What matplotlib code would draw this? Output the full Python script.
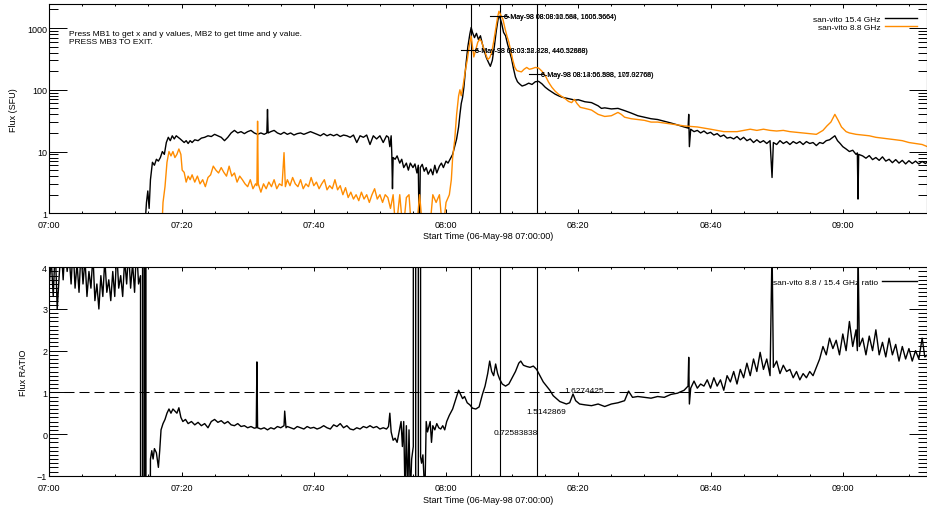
import matplotlib
matplotlib.use("Agg")
import matplotlib.pyplot as plt
from matplotlib.lines import Line2D
from matplotlib.ticker import MultipleLocator, NullFormatter, LogLocator, FixedLocator

plt.rcParams['font.family'] = ['Liberation Sans', 'DejaVu Sans']

# ---------------- data (time in minutes after 07:00 UT, 06-May-98) ----------------
t_154 = [14.4, 14.7, 14.9, 15.1, 15.3, 15.6, 15.9, 16.2, 16.5, 16.8,
         17.1, 17.4, 17.7, 18.0, 18.3, 18.6, 18.9, 19.2, 19.5, 19.8,
         20.1, 20.4, 20.7, 21.0, 21.3, 21.6, 22.0, 22.5, 23.0, 23.5,
         24.0, 24.5, 25.0, 25.5, 26.0, 26.5, 27.0, 27.5, 28.0, 28.5,
         29.0, 29.5, 30.0, 30.5, 31.0, 31.5, 32.0, 32.5, 32.9, 33.0,
         33.1, 33.5, 34.0, 34.5, 35.0, 35.5, 36.0, 36.5, 37.0, 37.5,
         38.0, 38.5, 39.0, 39.5, 40.0, 40.5, 41.0, 41.5, 42.0, 42.5,
         43.0, 43.5, 44.0, 44.5, 45.0, 45.5, 46.0, 46.5, 47.0, 47.5,
         48.0, 48.5, 49.0, 49.5, 50.0, 50.5, 51.0, 51.3, 51.5, 51.7,
         51.8, 51.9, 52.0, 52.3, 52.6, 53.0, 53.3, 53.6, 54.0, 54.3,
         54.6, 55.0, 55.3, 55.6, 55.8, 55.9, 56.0, 56.1, 56.4, 56.7,
         57.0, 57.3, 57.7, 58.0, 58.3, 58.6, 59.0, 59.3, 59.6, 60.0,
         60.3, 60.6, 61.0, 61.3, 61.6, 61.9, 62.1, 62.3, 62.5, 62.7,
         63.0, 63.3, 63.6, 63.8, 64.0, 64.3, 64.6, 64.9, 65.2, 65.5,
         65.8, 66.1, 66.4, 66.7, 67.0, 67.3, 67.6, 67.9, 68.1, 68.4,
         68.7, 69.0, 69.3, 69.6, 69.9, 70.2, 70.5, 70.8, 71.1, 71.5,
         72.0, 72.5, 73.0, 73.5, 74.0, 74.5, 75.0, 75.5, 76.0, 76.5,
         77.0, 77.5, 78.0, 78.5, 79.0, 79.5, 80.0, 81.0, 82.0, 83.0,
         83.5, 84.0, 85.0, 86.0, 87.0, 88.0, 89.0, 90.0, 91.0, 92.0,
         93.0, 94.0, 95.0, 96.0, 96.6, 96.7, 96.8, 97.0, 97.5, 98.0,
         98.5, 99.0, 99.5, 100.0, 100.5, 101.0, 101.5, 102.0, 102.5, 103.0,
         103.5, 104.0, 104.5, 105.0, 105.5, 106.0, 106.5, 107.0, 107.5, 108.0,
         108.5, 109.0, 109.3, 109.5, 110.0, 110.5, 111.0, 111.5, 112.0, 112.5,
         113.0, 113.5, 114.0, 114.5, 115.0, 115.5, 116.0, 116.5, 117.0, 117.5,
         118.0, 118.5, 118.8, 119.2, 119.6, 120.0, 120.5, 121.0, 121.5, 122.0,
         122.2, 122.3, 122.4, 123.0, 123.5, 124.0, 124.5, 125.0, 125.5, 126.0,
         126.5, 127.0, 127.5, 128.0, 128.5, 129.0, 129.5, 130.0, 130.5, 131.0,
         131.5, 132.0, 132.5, 132.8]
flux_154 = [0.5, 1.5, 2.3, 1.2, 3.5, 6.7, 6.0, 7.5, 7.0, 8.0,
            10, 9, 14, 17, 15, 18, 16, 18, 17, 16,
            15, 14, 15, 13.5, 15, 14, 15.5, 15, 16.5, 17,
            18, 17.5, 19, 18, 17, 15, 17, 20, 22, 20,
            21, 19.5, 21, 22, 20, 19, 20, 19, 20, 48,
            20, 21, 22, 20, 19, 20.5, 19, 20, 18.5, 19.5,
            20, 19, 20, 21, 20, 19, 18, 19.5, 18, 19,
            18, 19, 17.5, 18.5, 18, 17, 18.5, 14, 18, 17,
            18.5, 13, 18, 16, 18, 14, 18, 17, 12, 18,
            9, 2.5, 8, 7.5, 8.5, 6.5, 7.5, 5.5, 6.5, 5,
            6.5, 5.5, 6.3, 4.5, 6, 1, 0.5, 5.5, 6.2, 4.8,
            5.5, 4.3, 5.2, 4.2, 6, 4.5, 5.8, 6.5, 5.5, 7,
            6.5, 7.5, 9, 12, 16, 25, 40, 60, 75, 110,
            250, 500, 800, 1020, 850, 700, 820, 650, 750, 550,
            420, 330, 280, 240, 300, 500, 900, 1450, 1550, 1200,
            850, 750, 550, 420, 320, 220, 160, 135, 125, 115,
            120, 128, 122, 135, 137, 125, 110, 100, 92, 85,
            80, 76, 74, 72, 70, 68, 69, 64, 62, 55,
            50, 51, 49, 50, 46, 42, 38, 36, 34, 33,
            31, 29, 27, 25, 24, 40, 12, 23, 21, 22,
            20, 21.5, 19.5, 20.5, 18.5, 19.5, 17.5, 18.5, 16.5, 17,
            16, 17.5, 15.5, 17, 15, 16, 14, 15.5, 14, 15,
            13.5, 15, 3.8, 14, 13, 15, 13.5, 14.5, 13, 14.5,
            13.5, 14.5, 13, 14.5, 13.5, 14, 12.5, 14, 13.5, 15,
            15.5, 17, 18, 15, 13.5, 12, 11, 10, 10.5, 9,
            9.5, 1.7, 9, 8.5, 7.8, 8.6, 7.4, 8, 7.2, 8.2,
            7, 7.5, 6.6, 7.4, 6.5, 7.2, 6.3, 7.1, 6.4, 7,
            6.3, 6.9, 6.4, 6.8]

t_88 = [17.0, 17.2, 17.5, 17.8, 18.1, 18.4, 18.7, 19.0, 19.3, 19.6,
        19.9, 20.1, 20.4, 20.7, 21.0, 21.3, 21.6, 22.0, 22.4, 22.8,
        23.2, 23.6, 24.0, 24.4, 24.8, 25.2, 25.6, 26.0, 26.4, 26.8,
        27.2, 27.6, 28.0, 28.4, 28.8, 29.2, 29.6, 30.0, 30.4, 30.8,
        31.2, 31.4, 31.5, 31.6, 32.0, 32.4, 32.8, 33.2, 33.6, 34.0,
        34.4, 34.8, 35.2, 35.5, 35.7, 36.0, 36.4, 36.8, 37.2, 37.6,
        38.0, 38.4, 38.8, 39.2, 39.6, 40.0, 40.4, 40.8, 41.2, 41.6,
        42.0, 42.4, 42.8, 43.2, 43.6, 44.0, 44.4, 44.8, 45.2, 45.6,
        46.0, 46.4, 46.8, 47.2, 47.6, 48.0, 48.4, 48.8, 49.2, 49.6,
        50.0, 50.4, 50.8, 51.2, 51.6, 52.0, 52.4, 53.0, 53.5, 54.0,
        54.4, 54.8, 55.5, 56.0, 56.5, 57.5, 58.0, 58.5, 59.0, 59.5,
        60.0, 60.5, 60.8, 61.0, 61.3, 61.6, 61.9, 62.1, 62.3, 62.6,
        62.9, 63.2, 63.5, 63.8, 64.0, 64.2, 64.5, 64.8, 65.1, 65.4,
        65.7, 66.0, 66.3, 66.6, 66.9, 67.2, 67.5, 67.8, 68.0, 68.3,
        68.6, 68.9, 69.2, 69.5, 69.8, 70.1, 70.4, 70.7, 71.0, 71.4,
        71.8, 72.2, 72.6, 73.0, 73.5, 74.0, 74.5, 75.0, 75.5, 76.0,
        76.5, 77.0, 77.5, 78.0, 78.5, 79.0, 79.4, 79.8, 80.3, 81.0,
        82.0, 83.0, 84.0, 85.0, 86.0, 86.5, 87.0, 88.0, 89.0, 90.0,
        91.0, 92.0, 93.0, 94.0, 95.0, 96.0, 97.0, 98.0, 99.0, 100.0,
        101.0, 102.0, 103.0, 104.0, 105.0, 106.0, 107.0, 108.0, 109.0, 110.0,
        111.0, 112.0, 113.0, 114.0, 115.0, 116.0, 117.0, 117.6, 118.2, 118.8,
        119.3, 119.8, 120.5, 121.0, 122.0, 123.0, 124.0, 125.0, 126.0, 127.0,
        128.0, 129.0, 130.0, 131.0, 132.0, 132.8]
flux_88 = [0.5, 1.5, 2.7, 6.7, 10, 8.5, 10, 8, 9, 11,
           9, 5, 4.6, 3.2, 4, 3.5, 4.2, 3.2, 4, 3,
           3.5, 2.7, 3.8, 4.2, 5.8, 5, 4.5, 5.5, 4.6, 4,
           5.8, 4, 4.5, 3.2, 4, 3.5, 3, 2.7, 3.5, 2.5,
           3, 2.8, 31, 3, 2.2, 3, 2.5, 3.2, 2.7, 3.5,
           2.5, 3, 2.8, 9.6, 2.7, 3.5, 2.8, 3.8, 3, 2.7,
           3.5, 2.5, 3, 2.7, 3.8, 2.8, 3.2, 2.5, 3, 3.5,
           2.4, 2.8, 2.5, 3.5, 2.4, 2.8, 2, 2.6, 1.8, 2.2,
           1.7, 2, 1.6, 2.2, 1.7, 2, 1.5, 2, 2.5, 1.7,
           2, 1.5, 2, 1.8, 1.2, 2, 0.5, 2, 0.5, 1.8,
           2, 0.5, 0.5, 2, 0.5, 0.5, 2, 1.5, 2, 0.5,
           1.5, 2, 3.5, 8, 15, 40, 80, 100, 80, 120,
           200, 300, 500, 740, 500, 340, 450, 590, 660, 600,
           460, 380, 310, 330, 400, 600, 960, 1500, 1870, 1600,
           1390, 1000, 750, 590, 420, 300, 230, 205, 200, 195,
           215, 230, 215, 220, 230, 225, 200, 170, 133, 110,
           95, 85, 78, 72, 65, 62, 70, 60, 52, 50,
           47, 40, 37, 38, 43, 40, 36, 34, 33, 32,
           30, 30, 29, 28, 27, 26, 25.5, 25, 24, 23,
           22, 21, 21, 21, 22, 23, 22, 23, 22, 21.5,
           22, 21, 20.5, 20, 19.5, 19, 22, 26, 30, 40,
           32, 25, 21, 20, 19, 18.5, 18, 17, 16.5, 16,
           15.5, 15, 14, 13.5, 13, 12]

t_ratio = [0.0, 0.3, 0.6, 0.9, 1.2, 1.5, 1.8, 2.1, 2.4, 2.7,
           3.0, 3.3, 3.6, 3.9, 4.2, 4.5, 4.8, 5.1, 5.4, 5.7,
           6.0, 6.3, 6.6, 6.9, 7.2, 7.5, 7.8, 8.1, 8.4, 8.7,
           9.0, 9.3, 9.6, 9.9, 10.2, 10.5, 10.8, 11.1, 11.4, 11.7,
           12.0, 12.3, 12.6, 12.9, 13.2, 13.5, 13.8, 13.85, 14.1, 14.12,
           14.35, 14.37, 14.55, 14.57, 14.59, 15.2, 15.3, 15.5, 15.7, 15.9,
           16.2, 16.5, 16.7, 16.9, 17.2, 17.5, 17.8, 18.1, 18.4, 18.7,
           19.0, 19.3, 19.6, 19.9, 20.2, 20.6, 21.0, 21.5, 22.0, 22.5,
           23.0, 23.5, 24.0, 24.5, 25.0, 25.5, 26.0, 26.5, 27.0, 27.5,
           28.0, 28.5, 29.0, 29.5, 30.0, 30.5, 31.0, 31.3, 31.4, 31.5,
           32.0, 32.5, 33.0, 33.5, 34.0, 34.5, 35.0, 35.5, 35.6, 35.8,
           36.0, 36.5, 37.0, 37.5, 38.0, 38.5, 39.0, 39.5, 40.0, 40.5,
           41.0, 41.5, 42.0, 42.5, 43.0, 43.5, 44.0, 44.5, 45.0, 45.5,
           46.0, 46.5, 47.0, 47.5, 48.0, 48.5, 49.0, 49.5, 50.0, 50.5,
           51.0, 51.3, 51.5, 51.7, 52.0, 52.3, 52.6, 52.9, 53.2, 53.4,
           53.6, 53.8, 54.0, 54.2, 54.4, 54.6, 54.8, 55.05, 55.1, 55.4,
           55.42, 55.8, 55.82, 56.1, 56.15, 56.3, 56.5, 56.8, 57.0, 57.2,
           57.6, 57.8, 58.0, 58.3, 58.6, 58.9, 59.2, 59.5, 59.8, 60.1,
           60.5, 61.0, 61.5, 61.9, 62.2, 62.5, 62.8, 63.2, 63.6, 64.0,
           64.5, 65.0, 65.5, 65.9, 66.3, 66.6, 66.9, 67.2, 67.5, 67.8,
           68.1, 68.5, 69.0, 69.5, 70.0, 70.5, 71.0, 71.3, 71.7, 72.2,
           72.7, 73.2, 73.7, 74.2, 74.7, 75.2, 75.7, 76.2, 76.7, 77.2,
           77.7, 78.2, 78.7, 79.2, 79.6, 80.2, 81.0, 82.0, 83.0, 84.0,
           85.0, 86.0, 87.0, 87.6, 88.2, 89.0, 90.0, 91.0, 92.0, 93.0,
           94.0, 95.0, 96.0, 96.6, 96.7, 96.8, 97.0, 97.5, 98.0, 98.5,
           99.0, 99.5, 100.0, 100.5, 101.0, 101.5, 102.0, 102.5, 103.0, 103.5,
           104.0, 104.5, 105.0, 105.5, 106.0, 106.5, 107.0, 107.5, 108.0, 108.5,
           109.0, 109.3, 109.5, 110.0, 110.5, 111.0, 111.5, 112.0, 112.5, 113.0,
           113.5, 114.0, 114.5, 115.0, 115.5, 116.0, 116.5, 117.0, 117.5, 118.0,
           118.5, 119.0, 119.5, 120.0, 120.5, 121.0, 121.5, 122.0, 122.2, 122.3,
           122.5, 123.0, 123.5, 124.0, 124.5, 125.0, 125.5, 126.0, 126.5, 127.0,
           127.5, 128.0, 128.5, 129.0, 129.5, 130.0, 130.5, 131.0, 131.5, 132.0,
           132.4, 132.8]
ratio = [3.6, 4.2, 3.3, 4.5, 3.0, 3.8, 4.5, 3.7, 4.6, 3.9,
         4.3, 3.6, 4.5, 3.5, 4.1, 3.4, 4.4, 3.6, 4.2, 3.3,
         3.9, 3.5, 4.3, 3.2, 3.6, 3.0, 3.8, 3.3, 4.2, 3.4,
         3.7, 3.2, 3.9, 3.3, 4.4, 3.5, 3.8, 3.3, 4.2, 3.6,
         4.4, 3.5, 4.1, 3.4, 4.5, 3.6, 3.8, -60, -60, 60,
         60, -60, -60, 60, -60, -5, -0.6, -0.4, -0.6, -0.35,
         -0.45, -0.8, -0.4, 0.1, 0.25, 0.35, 0.5, 0.6, 0.5, 0.6,
         0.55, 0.5, 0.63, 0.4, 0.3, 0.35, 0.25, 0.3, 0.22, 0.28,
         0.2, 0.25, 0.15, 0.3, 0.35, 0.28, 0.32, 0.25, 0.3, 0.22,
         0.2, 0.25, 0.18, 0.2, 0.15, 0.18, 0.14, 0.15, 1.73, 0.15,
         0.12, 0.15, 0.1, 0.15, 0.12, 0.18, 0.15, 0.2, 0.55, 0.15,
         0.18, 0.15, 0.12, 0.18, 0.15, 0.12, 0.18, 0.14, 0.16, 0.12,
         0.15, 0.2, 0.15, 0.12, 0.22, 0.18, 0.25, 0.15, 0.2, 0.12,
         0.1, 0.15, 0.12, 0.18, 0.15, 0.2, 0.15, 0.18, 0.12, 0.15,
         0.12, 0.18, 0.5, 0.05, -0.15, -0.1, -0.2, 0.05, 0.3, -0.3,
         0.3, -1.5, 0.2, -1.5, 0.1, -1.5, -0.6, -0.3, 60, 60,
         -60, -60, 60, 60, -0.55, -0.7, -0.5, -1.5, 0.3, 0.05,
         0.3, -0.2, 0.2, 0.1, 0.25, 0.15, 0.12, 0.2, 0.1, 0.3,
         0.45, 0.6, 0.85, 1.05, 0.95, 0.85, 0.9, 0.75, 0.7, 0.62,
         0.6, 0.65, 0.95, 1.15, 1.45, 1.75, 1.5, 1.4, 1.68, 1.45,
         1.32, 1.2, 1.15, 1.2, 1.35, 1.5, 1.7, 1.75, 1.65, 1.62,
         1.6, 1.63, 1.55, 1.4, 1.25, 1.15, 1.05, 0.92, 0.85, 0.78,
         0.75, 0.72, 0.75, 0.96, 0.8, 0.72, 0.7, 0.68, 0.72, 0.66,
         0.72, 0.75, 0.8, 1.03, 0.88, 0.9, 0.88, 0.86, 0.9, 0.88,
         0.95, 0.98, 1.05, 1.15, 1.84, 0.72, 1.1, 1.27, 1.1, 1.2,
         1.15, 1.3, 1.1, 1.35, 1.15, 1.3, 1.05, 1.4, 1.25, 1.5,
         1.2, 1.55, 1.35, 1.7, 1.4, 1.8, 1.5, 1.96, 1.55, 1.8,
         1.4, 4.5, 1.6, 1.75, 1.45, 1.65, 1.5, 1.55, 1.35, 1.5,
         1.3, 1.45, 1.35, 1.5, 1.4, 1.6, 1.8, 2.1, 1.9, 2.3,
         2.05, 2.25, 1.9, 2.4, 2.0, 2.7, 2.1, 2.5, 2.0, 4.5,
         2.1, 2.3, 1.9, 2.35, 2.0, 2.5, 1.9, 2.2, 1.85, 2.3,
         1.9, 2.15, 1.75, 2.1, 1.8, 2.05, 1.75, 2.0, 1.8, 2.3,
         1.85, 1.9]

cursor_times = [63.7, 68.1, 73.8]
tick_minutes = [0, 20, 40, 60, 80, 100, 120]
tick_labels = ["07:00", "07:20", "07:40", "08:00", "08:20", "08:40", "09:00"]
flux_ticks = [1, 10, 100, 1000]
flux_tick_labels = ["1", "10", "100", "1000"]
ratio_ticks = [-1, 0, 1, 2, 3, 4]

# cursor read-outs (time, value) in the upper panel
cursor_pts = [(62.3, 64.7, 438), (66.7, 69.4, 1560), (72.5, 74.7, 179)]
cursor_text = [
    (64.4, 438, ["6-May-98 08:03:52.828, 440.52888)", "6-May-98 08:03:28.228, 446.32668)"]),
    (68.7, 1560, ["6-May-98 08:08:06.684, 1606.5664)", "6-May-98 08:08:12.568, 1605.3664)"]),
    (74.3, 179, ["6-May-98 08:13:56.898, 107.92766)", "6-May-98 08:14:06.588, 175.02768)"]),
]
ratio_text = [(67.2, 0.04, "0.72583838"), (72.2, 0.53, "1.5142869"), (77.9, 1.04, "1.6274425")]

ORANGE = "#FF8C00"
XMAX = 132.8

fig = plt.figure(figsize=(9.28, 5.10), dpi=100)
ax1 = fig.add_axes([0.0531, 0.5798, 0.9463, 0.4104])
ax2 = fig.add_axes([0.0531, 0.0653, 0.9463, 0.4086])

for ax in (ax1, ax2):
    for s in ax.spines.values():
        s.set_linewidth(0.8)
    ax.set_xlim(0, XMAX)
    ax.xaxis.set_major_locator(FixedLocator(tick_minutes))
    ax.set_xticklabels(tick_labels)
    ax.xaxis.set_minor_locator(MultipleLocator(5))
    ax.tick_params(axis='both', which='both', direction='in', top=True, right=True,
                   width=0.7, labelsize=6.5)
    ax.tick_params(axis='x', which='major', length=3.0, pad=5)
    ax.tick_params(axis='x', which='minor', length=1.5)
    ax.tick_params(axis='y', which='major', length=12.7, pad=1.5)
    ax.tick_params(axis='y', which='minor', length=6.3)
    for tc in cursor_times:
        ax.axvline(tc, color='black', lw=0.8)
    ax.set_xlabel("Start Time (06-May-98 07:00:00)", fontsize=6.5)

# ---------- upper panel ----------
ax1.set_yscale('log')
ax1.set_ylim(1, 2450)
ax1.plot(t_154, flux_154, color='black', lw=1.0)
ax1.plot(t_88, flux_88, color=ORANGE, lw=1.0)
ax1.set_yticks(flux_ticks)
ax1.set_yticklabels(flux_tick_labels)
ax1.yaxis.set_minor_locator(LogLocator(base=10, subs=range(2, 10)))
ax1.yaxis.set_minor_formatter(NullFormatter())
ax1.set_ylabel("Flux (SFU)", fontsize=6.5)
ax1.yaxis.set_label_coords(-0.0357, 0.5)
ax1.xaxis.set_label_coords(0.5, -0.085)

ax1.text(0.0228, 0.859, "Press MB1 to get x and y values, MB2 to get time and y value.",
         transform=ax1.transAxes, fontsize=6, va='center', ha='left')
ax1.text(0.0228, 0.8206, "PRESS MB3 TO EXIT.", transform=ax1.transAxes,
         fontsize=6, va='center', ha='left')

for (x0, x1, yv) in cursor_pts:
    ax1.plot([x0, x1], [yv, yv], color='black', lw=0.8)
for (xt, yt, strs) in cursor_text:
    for s in strs:
        ax1.text(xt, yt, s, fontsize=5, va='center', ha='left')

h1 = [Line2D([], [], color='black', lw=1.0), Line2D([], [], color=ORANGE, lw=1.0)]
ax1.legend(h1, ["san-vito 15.4 GHz", "san-vito 8.8 GHz"], loc='upper right',
           bbox_to_anchor=(0.988, 0.947), frameon=False, markerfirst=False, fontsize=6,
           handlelength=3.8, handletextpad=0.6, labelspacing=0.0, handleheight=0.7,
           borderpad=0, borderaxespad=0)

# ---------- lower panel ----------
ax2.set_ylim(-1, 4)
ax2.plot(t_ratio, ratio, color='black', lw=1.0)
ax2.axhline(1, color='black', lw=0.75, ls=(0, (9.6, 4.8)))
ax2.set_yticks(ratio_ticks)
ax2.yaxis.set_minor_locator(MultipleLocator(0.1))
ax2.set_ylabel("Flux RATIO", fontsize=6.5)
ax2.yaxis.set_label_coords(-0.0243, 0.5)
ax2.xaxis.set_label_coords(0.5, -0.093)
for (xt, yt, s) in ratio_text:
    ax2.text(xt, yt, s, fontsize=6, va='center', ha='left')

h2 = [Line2D([], [], color='black', lw=1.0)]
ax2.legend(h2, ["san-vito 8.8 / 15.4 GHz ratio"], loc='upper right',
           bbox_to_anchor=(0.988, 0.949), frameon=False, markerfirst=False, fontsize=6,
           handlelength=4.2, handletextpad=0.4, borderpad=0, borderaxespad=0)

fig.savefig("out.png", dpi=100)
